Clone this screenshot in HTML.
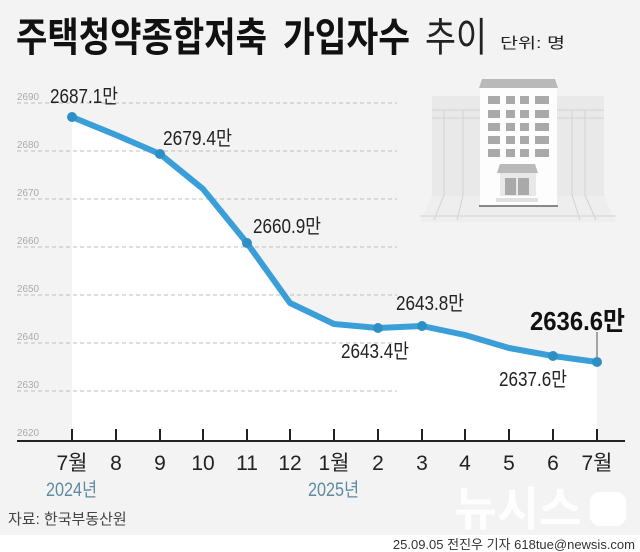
<!DOCTYPE html><html><head><meta charset="utf-8"><style>
body{margin:0;width:640px;height:552px;overflow:hidden;background:#fff;font-family:"Liberation Sans","Noto Sans CJK KR",sans-serif}
</style></head><body>
<svg width="640" height="552" xmlns="http://www.w3.org/2000/svg" style="display:block;font-family:'Liberation Sans','Noto Sans CJK KR',sans-serif">
<rect width="640" height="535" fill="#f3f3f3"/>
<text x="16" y="51" font-size="40" font-weight="bold" fill="#111" textLength="251" lengthAdjust="spacingAndGlyphs">주택청약종합저축</text>
<text x="283" y="51" font-size="40" font-weight="bold" fill="#111" textLength="127" lengthAdjust="spacingAndGlyphs">가입자수</text>
<text x="425" y="51" font-size="40" fill="#222" textLength="62" lengthAdjust="spacingAndGlyphs">추이</text>
<text x="500" y="48" font-size="15" fill="#222" textLength="65" lengthAdjust="spacingAndGlyphs">단위: 명</text>
<g>
<rect x="432" y="96" width="172" height="100" fill="#e9e9e9"/>
<polygon points="432,196 604,196 616,222 420,222" fill="#eeeeee"/>
<g stroke="#cfd3d5" stroke-width="1" fill="none">
<line x1="432" y1="110" x2="480" y2="110"/><line x1="432" y1="118" x2="480" y2="118"/>
<line x1="557" y1="110" x2="604" y2="110"/><line x1="557" y1="118" x2="604" y2="118"/>
<line x1="444" y1="110" x2="444" y2="195"/><line x1="463" y1="110" x2="463" y2="195"/>
<line x1="572" y1="110" x2="572" y2="195"/><line x1="585" y1="110" x2="585" y2="195"/>
<line x1="444" y1="195" x2="434" y2="220"/><line x1="463" y1="195" x2="457" y2="220"/>
<line x1="572" y1="195" x2="580" y2="220"/><line x1="585" y1="195" x2="596" y2="220"/>
<line x1="420" y1="216" x2="616" y2="216"/>
</g>
<rect x="480" y="88" width="77" height="118" fill="#fdfdfd"/>
<polygon points="482,79 555,79 558,88 479,88" fill="#b9b9b9"/>
<g fill="#a9a9a9">
<rect x="488" y="96" width="12" height="8"/><rect x="506" y="96" width="9" height="8"/><rect x="520" y="96" width="9" height="8"/><rect x="535" y="96" width="14" height="8"/>
<rect x="488" y="110" width="12" height="8"/><rect x="506" y="110" width="9" height="8"/><rect x="520" y="110" width="9" height="8"/><rect x="535" y="110" width="14" height="8"/>
<rect x="488" y="123" width="12" height="8"/><rect x="506" y="123" width="9" height="8"/><rect x="520" y="123" width="9" height="8"/><rect x="535" y="123" width="14" height="8"/>
<rect x="488" y="136" width="12" height="8"/><rect x="506" y="136" width="9" height="8"/><rect x="520" y="136" width="9" height="8"/><rect x="535" y="136" width="14" height="8"/>
<rect x="488" y="149" width="12" height="8"/><rect x="506" y="149" width="9" height="8"/><rect x="520" y="149" width="9" height="8"/><rect x="535" y="149" width="14" height="8"/>
</g>
<polygon points="500,164 535,164 538,173 497,173" fill="#b9b9b9"/>
<rect x="500" y="173" width="36" height="23" fill="#e8e8e8"/>
<rect x="505" y="178" width="11" height="17" fill="#a9a9a9"/><rect x="518" y="178" width="11" height="17" fill="#a9a9a9"/>
<rect x="496" y="198" width="42" height="4" fill="#e0e0e0"/>
<rect x="479" y="205" width="79" height="2" fill="#888"/>
</g>
<polygon points="72,117 116,135 160,154 203,189 247,243 290,303 334,324 378,328 422,326 465,335 509,348 553,356 597,362 597,440 72,440" fill="#fff"/>
<g stroke="#aaa" stroke-dasharray="4,3" stroke-width="0.8">
<line x1="17" y1="103" x2="397" y2="103"/><line x1="17" y1="151" x2="397" y2="151"/><line x1="17" y1="199" x2="397" y2="199"/><line x1="17" y1="247" x2="397" y2="247"/><line x1="17" y1="295" x2="397" y2="295"/><line x1="17" y1="343" x2="397" y2="343"/><line x1="17" y1="391" x2="397" y2="391"/>
</g>
<g font-size="10" fill="#aaa">
<text x="17" y="100" textLength="22" lengthAdjust="spacingAndGlyphs">2690</text><text x="17" y="148" textLength="22" lengthAdjust="spacingAndGlyphs">2680</text><text x="17" y="196" textLength="22" lengthAdjust="spacingAndGlyphs">2670</text><text x="17" y="244" textLength="22" lengthAdjust="spacingAndGlyphs">2660</text><text x="17" y="292" textLength="22" lengthAdjust="spacingAndGlyphs">2650</text><text x="17" y="340" textLength="22" lengthAdjust="spacingAndGlyphs">2640</text><text x="17" y="388" textLength="22" lengthAdjust="spacingAndGlyphs">2630</text><text x="17" y="436" textLength="22" lengthAdjust="spacingAndGlyphs">2620</text>
</g>
<polyline points="72,117 116,135 160,154 203,189 247,243 290,303 334,324 378,328 422,326 465,335 509,348 553,356 597,362" fill="none" stroke="#3a9fd8" stroke-width="6" stroke-linejoin="round"/>
<g fill="#2f8fc4">
<circle cx="72" cy="117" r="5"/><circle cx="160" cy="154" r="5"/><circle cx="247" cy="243" r="5"/><circle cx="378" cy="328" r="5"/><circle cx="422" cy="326" r="5"/><circle cx="553" cy="356" r="5"/><circle cx="597" cy="362" r="5"/>
</g>
<line x1="597" y1="332" x2="597" y2="357" stroke="#555" stroke-width="1"/>
<g font-size="20" fill="#222">
<text x="50" y="103" textLength="68" lengthAdjust="spacingAndGlyphs">2687.1만</text>
<text x="163" y="145" textLength="69" lengthAdjust="spacingAndGlyphs">2679.4만</text>
<text x="253" y="233" textLength="68" lengthAdjust="spacingAndGlyphs">2660.9만</text>
<text x="396" y="310" textLength="68" lengthAdjust="spacingAndGlyphs">2643.8만</text>
<text x="341" y="358" textLength="68" lengthAdjust="spacingAndGlyphs">2643.4만</text>
<text x="499" y="386" textLength="68" lengthAdjust="spacingAndGlyphs">2637.6만</text>
</g>
<text x="530" y="330" font-size="26" font-weight="bold" fill="#111" textLength="95" lengthAdjust="spacingAndGlyphs">2636.6만</text>
<line x1="17" y1="441" x2="625" y2="441" stroke="#222" stroke-width="2"/>
<g stroke="#222" stroke-width="2">
<line x1="72" y1="429" x2="72" y2="441"/><line x1="116" y1="429" x2="116" y2="441"/><line x1="160" y1="429" x2="160" y2="441"/><line x1="203" y1="429" x2="203" y2="441"/><line x1="247" y1="429" x2="247" y2="441"/><line x1="290" y1="429" x2="290" y2="441"/><line x1="334" y1="429" x2="334" y2="441"/><line x1="378" y1="429" x2="378" y2="441"/><line x1="422" y1="429" x2="422" y2="441"/><line x1="465" y1="429" x2="465" y2="441"/><line x1="509" y1="429" x2="509" y2="441"/><line x1="553" y1="429" x2="553" y2="441"/><line x1="597" y1="429" x2="597" y2="441"/>
</g>
<g font-size="21" fill="#222" text-anchor="middle">
<text x="72" y="470">7월</text><text x="116" y="470">8</text><text x="160" y="470">9</text><text x="203" y="470">10</text><text x="247" y="470">11</text><text x="290" y="470">12</text><text x="334" y="470">1월</text><text x="378" y="470">2</text><text x="422" y="470">3</text><text x="465" y="470">4</text><text x="509" y="470">5</text><text x="553" y="470">6</text><text x="597" y="470">7월</text>
</g>
<g font-size="19" fill="#5f8aa0">
<text x="46" y="496" textLength="51" lengthAdjust="spacingAndGlyphs">2024년</text><text x="308" y="496" textLength="51" lengthAdjust="spacingAndGlyphs">2025년</text>
</g>
<text x="8" y="524" font-size="15" fill="#444">자료: 한국부동산원</text>
<text x="518" y="525" font-size="46" font-weight="bold" fill="#fff" text-anchor="middle" opacity="0.95">뉴시스</text>
<rect x="590" y="492" width="36" height="34" rx="10" fill="#fff"/>
<text x="635" y="549" font-size="13" fill="#333" text-anchor="end">25.09.05 전진우 기자 618tue@newsis.com</text>
</svg>
</body></html>
